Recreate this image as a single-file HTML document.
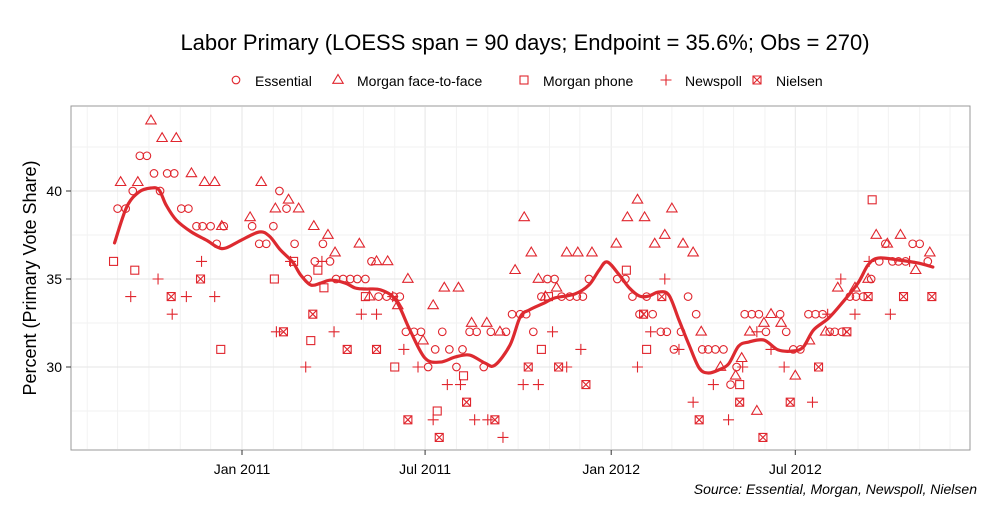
<!DOCTYPE html>
<html><head><meta charset="utf-8"><style>
body{margin:0;background:#fff;font-family:"Liberation Sans",sans-serif}
svg text{font-family:"Liberation Sans",sans-serif}
</style></head><body>
<svg id="c" width="1000" height="500" viewBox="0 0 1000 500">
<text x="525" y="50" font-size="22" text-anchor="middle" fill="#000">Labor Primary (LOESS span = 90 days; Endpoint = 35.6%; Obs = 270)</text>
<g id="legend"></g>
<rect x="71" y="106" width="899" height="344" fill="#fff" stroke="#999" stroke-width="1"/>
<g id="grid"></g><g id="marks"></g><g id="axes"></g>
<text transform="translate(36,278) rotate(-90)" font-size="18" text-anchor="middle">Percent (Primary Vote Share)</text>
<text x="977" y="494" font-size="14" font-style="italic" text-anchor="end">Source: Essential, Morgan, Newspoll, Nielsen</text>
</svg>
<script>
// days since 2011-01-01, value %
const essDays=[-123,-115,-108,-101,-94,-87,-81,-74,-67,-60,-53,-45,-39,-31,-25,-18,10,17,24,31,37,44,52,65,72,80,87,93,100,107,114,122,128,135,143,150,156,162,170,177,184,191,198,205,212,218,225,232,239,246,261,267,275,281,288,296,302,309,316,324,331,337,343,371,379,386,393,400,406,414,420,427,434,441,449,455,461,468,476,483,489,497,504,511,518,532,538,545,552,560,567,574,581,586,593,601,607,614,622,630,636,643,649,656,663,670,678];
const essVals=[39,39,40,42,42,41,40,41,41,39,39,38,38,38,37,38,38,37,37,38,40,39,37,35,36,37,36,35,35,35,35,35,36,34,34,34,34,32,32,32,30,31,32,31,30,31,32,32,30,32,32,33,33,33,32,34,35,35,34,34,34,34,35,35,35,34,33,34,33,32,32,31,32,34,33,31,31,31,31,29,30,33,33,33,32,33,32,31,31,33,33,33,32,32,32,34,34,34,35,36,37,36,36,36,37,37,36];
const f2fDays=[-120,-103,-90,-79,-65,-50,-37,-27,-20,8,19,33,46,56,71,85,92,116,133,144,126,154,164,179,189,200,214,227,242,255,270,279,286,293,300,311,321,332,346,370,381,391,398,408,418,425,436,446,454,473,488,494,502,516,523,533,509,547,561,577,589,606,619,627,638,651,666,680];
const f2fVals=[40.5,40.5,44,43,43,41,40.5,40.5,38,38.5,40.5,39,39.5,39,38,37.5,36.5,37,36,36,34,33.5,35,31.5,33.5,34.5,34.5,32.5,32.5,32,35.5,38.5,36.5,35,34,34.5,36.5,36.5,36.5,37,38.5,39.5,38.5,37,37.5,39,37,36.5,32,30,29.5,30.5,32,32.5,33,32.5,27.5,29.5,31.5,32,34.5,34.5,35,37.5,37,37.5,35.5,36.5];
const phoneDays=[-127,-106,-21,32,51,75,81,68,122,151,219,193,380,303,296,400,492,623];
const phoneVals=[36,35.5,31,35,36,35.5,34.5,31.5,34,30,29.5,27.5,35.5,34,31,31,29,39.5];
const newsDays=[-110,-83,-69,-55,-40,-27,34,48,63,91,118,133,160,174,189,203,216,230,243,258,278,293,307,321,335,391,404,418,432,446,466,481,495,509,523,536,564,579,592,606,620,641,660,79,149];
const newsVals=[34,35,33,34,36,34,32,36,30,32,33,33,31,30,27,29,29,27,27,26,29,29,32,30,31,30,32,35,31,28,29,27,30,32,31,30,28,33,35,33,36,33,36,36,34];
const nielDays=[-70,-41,41,70,104,133,164,195,222,250,283,313,340,397,415,452,492,515,542,570,598,619,654,682];
const nielVals=[34,35,32,33,31,31,27,26,28,27,30,30,29,33,34,27,28,26,28,30,32,34,34,34];
const loessDays=[-126,-114,-102,-90,-82,-75,-65,-50,-35,-24,-16,-1,17,27,38,50,58,68,78,88,102,112,122,137,152,166,181,196,211,225,240,250,265,275,284,299,309,329,343,353,361,373,383,393,402,412,422,432,442,452,461,471,481,491,501,516,530,545,555,565,580,594,609,619,629,649,668,683];
const loessVals=[37.05,39.09,39.94,40.17,40.06,39.2,38.35,37.67,37.2,36.8,36.76,37.2,37.67,37.44,36.65,35.97,35.23,34.66,34.77,34.94,34.77,34.49,34.43,34.38,33.8,32.1,30.5,30.28,30.57,30.68,30.23,30.1,31.25,32.84,33.24,33.64,33.92,34.15,34.66,35.5,35.97,35.23,34.49,34.03,34.03,34.26,34.09,32.67,31.25,29.94,29.66,29.83,30.17,31.19,31.42,31.53,30.97,30.91,31.14,32.1,32.78,33.69,34.77,35.8,36.19,36.08,35.91,35.68];
const yTicks=[30,35,40];
const yMinor=[27.5,32.5,37.5,42.5];
const xTickDays=[0,181,365,547];
const xTickLabels=["Jan 2011","Jul 2011","Jan 2012","Jul 2012"];
const monthDays=[-153,-123,-92,-61,-31,0,31,59,90,120,151,181,212,243,273,304,334,365,396,425,456,486,517,547,578,609,639,670,700];

const X=d=>242+d*1.0115;
const Y=v=>367-(v-30)*17.6;
const NS="http://www.w3.org/2000/svg";
const RED="#e0262e";
function mk(tag,attrs,parent){const e=document.createElementNS(NS,tag);for(const k in attrs)e.setAttribute(k,attrs[k]);parent.appendChild(e);return e;}
const grid=document.getElementById('grid'),marks=document.getElementById('marks'),axes=document.getElementById('axes'),legend=document.getElementById('legend');

monthDays.forEach(d=>{const x=X(d);if(x<72||x>969)return;const l=mk('line',{x1:x,x2:x,y1:107,y2:449,stroke:xTickDays.includes(d)?'#e6e6e6':'#f2f2f2','stroke-width':1},grid);

});
yMinor.forEach(v=>{const l=mk('line',{x1:72,x2:969,y1:Y(v),y2:Y(v),stroke:'#f2f2f2'},grid);

});
yTicks.forEach(v=>{const l=mk('line',{x1:72,x2:969,y1:Y(v),y2:Y(v),stroke:'#e6e6e6'},grid);


const t=mk('line',{x1:66,x2:71,y1:Y(v),y2:Y(v),stroke:'#333'},axes);


const tx=mk('text',{x:62,y:Y(v)+5,'font-size':14,'text-anchor':'end'},axes);tx.textContent=v;

});
xTickDays.forEach((d,i)=>{const t=mk('line',{x1:X(d),x2:X(d),y1:450,y2:455,stroke:'#333'},axes);


const tx=mk('text',{x:X(d),y:474,'font-size':14,'text-anchor':'middle'},axes);tx.textContent=xTickLabels[i];

});

function shape(kind,x,y,p){let e;
 if(kind==='circle')e=mk('circle',{cx:x,cy:y,r:3.8,fill:'none',stroke:RED,'stroke-width':1.1},p);
 else if(kind==='tri')e=mk('path',{d:`M${x},${y-5.5}L${x+5.2},${y+3.3}L${x-5.2},${y+3.3}Z`,fill:'none',stroke:RED,'stroke-width':1.1},p);
 else if(kind==='sq')e=mk('rect',{x:x-4,y:y-4,width:8,height:8,fill:'none',stroke:RED,'stroke-width':1.1},p);
 else if(kind==='plus')e=mk('path',{d:`M${x-5.5},${y}H${x+5.5}M${x},${y-5.5}V${y+5.5}`,fill:'none',stroke:RED,'stroke-width':1.1},p);
 else e=mk('path',{d:`M${x-4},${y-4}h8v8h-8zM${x-4},${y-4}l8,8M${x+4},${y-4}l-8,8`,fill:'none',stroke:RED,'stroke-width':1.1},p);
 return e;}
function series(days,vals,kind,name){const g=mk('g',{},marks);
 
 
 days.forEach((d,i)=>{const e=shape(kind,X(d),Y(vals[i]),g);
 
 });}
series(essDays,essVals,'circle','essential');
series(f2fDays,f2fVals,'tri','morgan-f2f');
series(phoneDays,phoneVals,'sq','morgan-phone');
series(newsDays,newsVals,'plus','newspoll');
series(nielDays,nielVals,'box','nielsen');

const pts=loessDays.map((d,i)=>[X(d),Y(loessVals[i])]);
let dstr='M'+pts[0].join(',');
for(let i=1;i<pts.length;i++){const p0=pts[i-2]||pts[i-1],p1=pts[i-1],p2=pts[i],p3=pts[i+1]||p2;
 dstr+=`C${p1[0]+(p2[0]-p0[0])/6},${p1[1]+(p2[1]-p0[1])/6} ${p2[0]-(p3[0]-p1[0])/6},${p2[1]-(p3[1]-p1[1])/6} ${p2[0]},${p2[1]}`;}
const ln=mk('path',{d:dstr,fill:'none',stroke:'#dd2a30','stroke-width':3.2,'stroke-linejoin':'round','stroke-linecap':'round'},marks);



const legItems=[['circle','Essential',236],['tri','Morgan face-to-face',338],['sq','Morgan phone',524],['plus','Newspoll',666],['box','Nielsen',757]];
legItems.forEach(([k,label,x])=>{const g=mk('g',{},legend);
 
 
 shape(k,x,80,g);
 const t=mk('text',{x:x+19,y:86,'font-size':14},g);t.textContent=label;});
</script>
</body></html>
